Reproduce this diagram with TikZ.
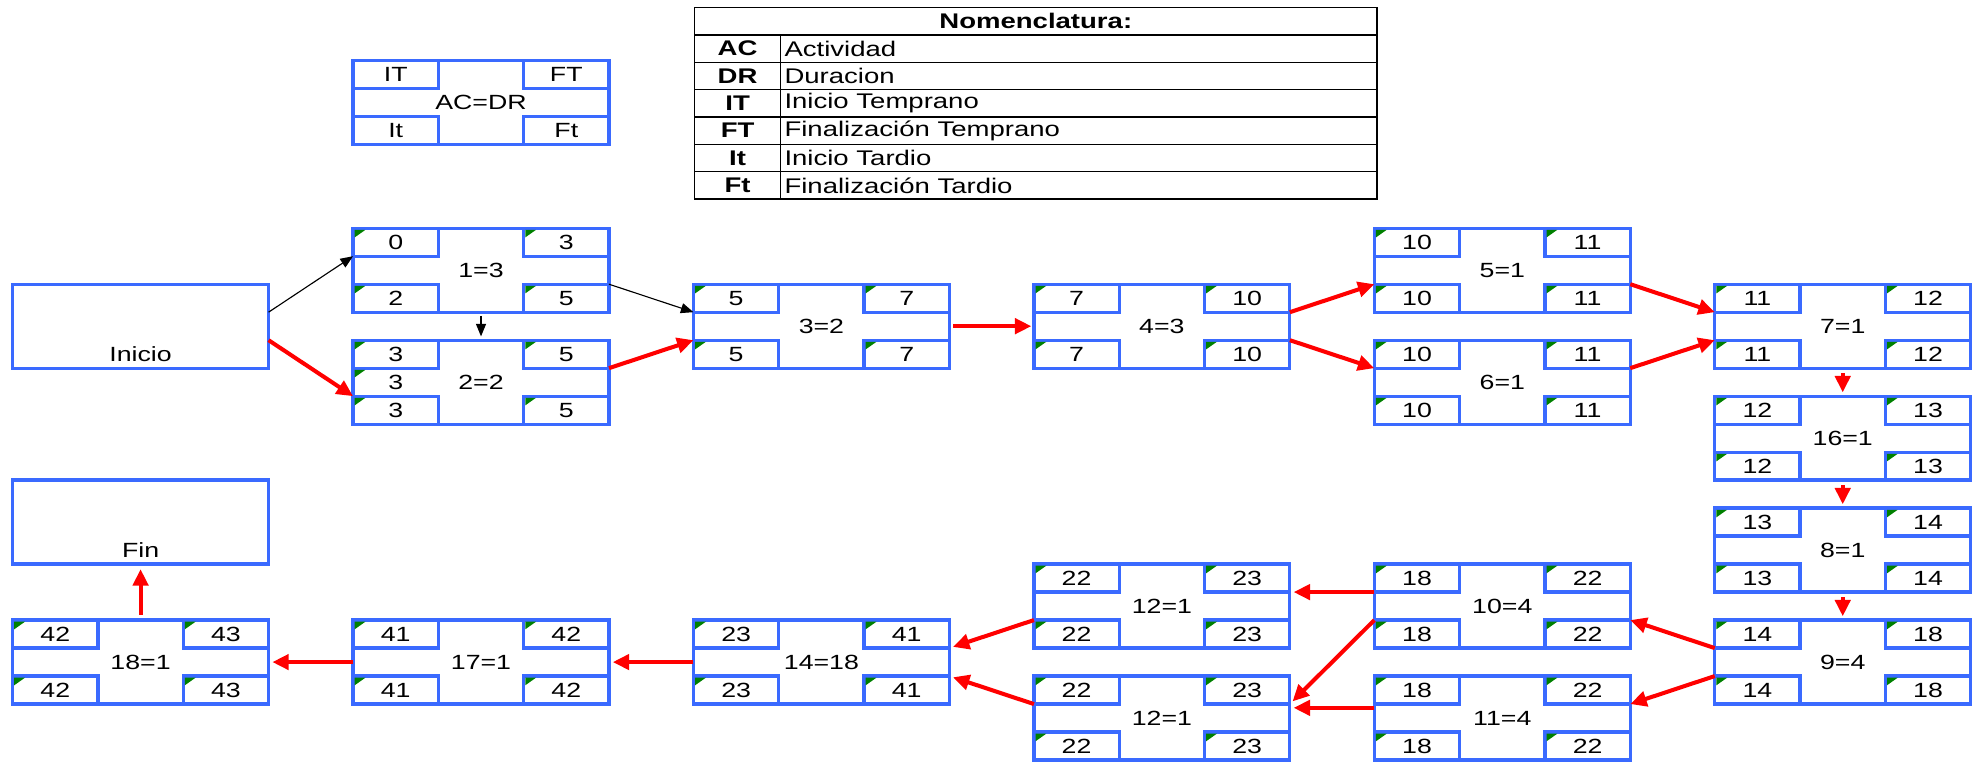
\documentclass[tikz,border=0pt]{standalone}
\usepackage{fontspec}
\setmainfont{Liberation Sans}[FakeStretch=1.3]
\usetikzlibrary{arrows.meta,calc}
\definecolor{bblue}{RGB}{58,106,255}
\definecolor{cgreen}{RGB}{0,128,0}
\newcommand\bxfont{\fontsize{16.3}{19}\selectfont}
\newcommand\tbfont{\fontsize{16.8}{19}\selectfont}
\tikzset{
  abox/.style={draw=bblue, line width=2.6pt, anchor=north west, minimum width=203pt,
    minimum height=66.6pt, inner sep=0pt, outer sep=0pt, font=\bxfont},
  cellline/.style={draw=bblue, line width=2.6pt},
  celltxt/.style={font=\bxfont, inner sep=0pt},
  tri/.style={fill=cgreen},
  crit/.style={draw=red, line width=3.2pt, -{Triangle[length=13pt,width=12pt]}},
  blk/.style={draw=black, line width=0.9pt, -{Triangle[length=10pt,width=8pt]}},
  tline/.style={draw=black, line width=1.2pt},
  tabb/.style={font=\tbfont\bfseries, inner sep=0pt},
  tdes/.style={font=\tbfont, inner sep=0pt, anchor=west},
}
% core box: name, x, y, IT, FT, label, It, Ft
\newcommand\coreact[8]{%
  \node[abox] (#1) at (#2,#3) {#6};
  \draw[cellline] (#1.north west) rectangle ++(67.7,22.2);
  \draw[cellline] (#1.north east) rectangle ++(-67.7,22.2);
  \draw[cellline] (#1.south west) rectangle ++(67.7,-22.2);
  \draw[cellline] (#1.south east) rectangle ++(-67.7,-22.2);
  \node[celltxt] (#1-a) at ([shift={(33.85,11.1)}]#1.north west) {#4};
  \node[celltxt] (#1-b) at ([shift={(-33.85,11.1)}]#1.north east) {#5};
  \node[celltxt] (#1-c) at ([shift={(33.85,-11.1)}]#1.south west) {#7};
  \node[celltxt] (#1-d) at ([shift={(-33.85,-11.1)}]#1.south east) {#8};
  \coordinate (#1-l1) at ([yshift=-22.2pt]#1.north west);
  \coordinate (#1-l2) at ([yshift=22.2pt]#1.south west);
  \coordinate (#1-r1) at ([yshift=-22.2pt]#1.north east);
  \coordinate (#1-r2) at ([yshift=22.2pt]#1.south east);
}
\newcommand\gtri[1]{\fill[tri] #1 ++(1.3,1.3) -- ++(8.5,0) -- ++(-8.5,6) -- cycle;}
\newcommand\actbox[8]{%
  \coreact{#1}{#2}{#3}{#4}{#5}{#6}{#7}{#8}
  \gtri{(#1.north west)}
  \gtri{([xshift=-67.7pt]#1.north east)}
  \gtri{([yshift=22.2pt]#1.south west)}
  \gtri{([shift={(-67.7,-22.2)}]#1.south east)}
}
\begin{document}
\begin{tikzpicture}[x=1pt,y=-1pt]
\useasboundingbox (0,0) rectangle (1568,605);

% Nomenclature table
\node[draw=black, line width=1.2pt, anchor=north west, minimum width=541pt, minimum height=152pt, inner sep=0pt, outer sep=0pt] (nom) at (551,6) {};
\foreach \i in {1,...,6} {\draw[tline] ($(nom.north west)+(0,21.7*\i)$) -- ++(541,0);}
\draw[tline] ($(nom.north west)+(68,21.7)$) -- ($(nom.south west)+(68,0)$);
\node[tabb] (nomh) at ($(nom.north)+(0,10.85)$) {Nomenclatura:};
\foreach \ab/\de [count=\i] in {AC/Actividad,DR/Duracion,IT/Inicio Temprano,FT/Finalización Temprano,It/Inicio Tardio,Ft/Finalización Tardio} {
  \node[tabb] (ab\i) at ($(nom.north west)+(34,21.7*\i+10.85)$) {\ab};
  \node[tdes] (de\i) at ($(nom.north west)+(71,21.7*\i+10.85)$) {\de};
}

% Legend
\coreact{leg}{280}{48}{IT}{FT}{AC=DR}{It}{Ft}

% Inicio / Fin
\node[abox] (ini) at (10,225.4) {};
\node[celltxt] (ini-t) at ([yshift=11pt]ini.south) {Inicio};
\coordinate (ini-r1) at ([yshift=-22.2pt]ini.north east);
\coordinate (ini-r2) at ([yshift=22.2pt]ini.south east);
\node[abox] (fin) at (10,380.8) {};
\node[celltxt] (fin-t) at ([yshift=11pt]fin.south) {Fin};

% Activities
\actbox{b1}{280}{181}{0}{3}{1=3}{2}{5}
\actbox{b2}{280}{269.8}{3}{5}{2=2}{3}{5}
\node[celltxt] (b2-m) at ([xshift=33.85pt]b2.west) {3};
\gtri{([yshift=-22.2pt]b2.north west)}
\actbox{b3}{550}{225.4}{5}{7}{3=2}{5}{7}
\actbox{b4}{820}{225.4}{7}{10}{4=3}{7}{10}
\actbox{b5}{1090}{181}{10}{11}{5=1}{10}{11}
\actbox{b6}{1090}{269.8}{10}{11}{6=1}{10}{11}
\actbox{b7}{1360}{225.4}{11}{12}{7=1}{11}{12}
\actbox{b16}{1360}{314.2}{12}{13}{16=1}{12}{13}
\actbox{b8}{1360}{403}{13}{14}{8=1}{13}{14}
\actbox{b9}{1360}{491.8}{14}{18}{9=4}{14}{18}
\actbox{b10}{1090}{447.4}{18}{22}{10=4}{18}{22}
\actbox{b11}{1090}{536.2}{18}{22}{11=4}{18}{22}
\actbox{b12a}{820}{447.4}{22}{23}{12=1}{22}{23}
\actbox{b12b}{820}{536.2}{22}{23}{12=1}{22}{23}
\actbox{b14}{550}{491.8}{23}{41}{14=18}{23}{41}
\actbox{b17}{280}{491.8}{41}{42}{17=1}{41}{42}
\actbox{b18}{10}{491.8}{42}{43}{18=1}{42}{43}

% Connectors
\draw[blk] (ini-r1) -- (b1-l1);
\draw[crit] (ini-r2) -- (b2-l2);
\draw[blk, shorten <=3pt, shorten >=3pt] (b1.south) -- (b2.north);
\draw[blk] (b1-r2) -- (b3-l1);
\draw[crit] (b2-r1) -- (b3-l2);
\draw[crit, shorten <=3pt, shorten >=2pt] (b3.east) -- (b4.west);
\draw[crit] (b4-r1) -- (b5-l2);
\draw[crit] (b4-r2) -- (b6-l1);
\draw[crit] (b5-r2) -- (b7-l1);
\draw[crit] (b6-r1) -- (b7-l2);
\draw[crit, shorten <=4pt, shorten >=3pt] (b7.south) -- (b16.north);
\draw[crit, shorten <=4pt, shorten >=3pt] (b16.south) -- (b8.north);
\draw[crit, shorten <=4pt, shorten >=3pt] (b8.south) -- (b9.north);
\draw[crit] (b9-l1) -- (b10-r2);
\draw[crit] (b9-l2) -- (b11-r1);
\draw[crit, shorten >=3pt] (b10-l1) -- (b12a-r1);
\draw[crit, shorten >=3pt] (b10-l2) -- (b12b-r1);
\draw[crit, shorten >=3pt] ([yshift=-3pt]b11-l1) -- ([yshift=-3pt]b12b-r1);
\draw[crit, shorten >=3pt] (b12a-l2) -- (b14-r1);
\draw[crit, shorten >=3pt] (b12b-l1) -- (b14-r2);
\draw[crit, shorten >=3pt] (b14.west) -- (b17.east);
\draw[crit, shorten >=3pt] (b17.west) -- (b18.east);
\draw[crit, shorten <=4pt, shorten >=4pt] (b18.north) -- (fin.south);
\end{tikzpicture}
\end{document}
